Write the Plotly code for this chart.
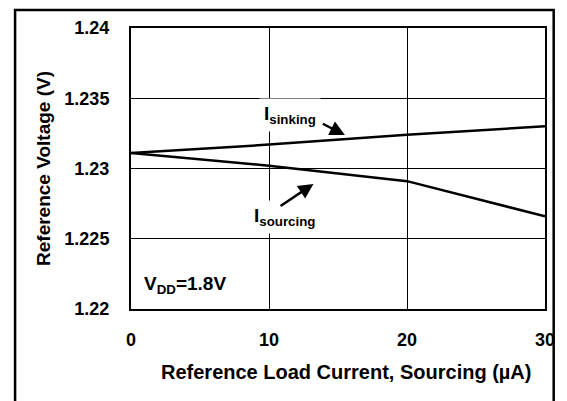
import plotly.graph_objects as go

# Load current (µA) and reference voltage (V) for each load direction
load_current = [0, 10, 20, 30]
v_sinking = [1.2311, 1.2317, 1.2324, 1.2330]
v_sourcing = [1.2311, 1.2302, 1.2291, 1.2266]

x_ticks = [0, 10, 20, 30]
y_ticks = [1.22, 1.225, 1.23, 1.235, 1.24]
y_tick_text = ["1.22", "1.225", "1.23", "1.235", "1.24"]

FONT = "Arial, 'Liberation Sans', sans-serif"

fig = go.Figure()
for name, vals in [("I sinking", v_sinking), ("I sourcing", v_sourcing)]:
    fig.add_trace(go.Scatter(
        x=load_current, y=vals, mode="lines", name=name,
        line=dict(color="black", width=2.5), showlegend=False,
    ))

tick_font = dict(family=FONT, size=18, color="black", weight="bold")
axis_common = dict(
    showgrid=True, gridcolor="black", gridwidth=1,
    showline=True, linecolor="black", linewidth=2, mirror=True,
    zeroline=False, ticks="", tickfont=tick_font,
)

fig.update_layout(
    width=567, height=401,
    margin=dict(l=131, r=14, t=28, b=92),
    paper_bgcolor="white", plot_bgcolor="white",
    font=dict(family=FONT, color="black"),
    xaxis=dict(range=[0, 30], tickvals=x_ticks, ticklabelstandoff=13,
               **axis_common),
    yaxis=dict(
        range=[1.22, 1.24], tickvals=y_ticks, ticktext=y_tick_text,
        ticklabelstandoff=16,
        title=dict(text="<b>Reference Voltage (V)</b>",
                   font=dict(family=FONT, size=19), standoff=9),
        **axis_common,
    ),
)

# X-axis title, set slightly right of the plot centre
fig.add_annotation(x=0.52, y=-0.224, xref="paper", yref="paper",
                   showarrow=False, yanchor="middle",
                   text="<b>Reference Load Current, Sourcing (µA)</b>",
                   font=dict(family=FONT, size=20))

# Outer frame around the whole figure
fig.add_shape(type="rect", xref="paper", yref="paper",
              x0=-0.28, x1=1.021, y0=-0.45, y1=1.064,
              line=dict(color="black", width=2.5), layer="below")

# Curve labels
fig.add_annotation(x=11.5, y=1.2338, xref="x", yref="y", showarrow=False,
                   text="<b>I<sub>sinking</sub></b>", bgcolor="white",
                   borderpad=4, font=dict(family=FONT, size=19))
fig.add_annotation(x=11.1, y=1.22655, xref="x", yref="y", showarrow=False,
                   text="<b>I<sub>sourcing</sub></b>", bgcolor="white",
                   borderpad=4, font=dict(family=FONT, size=19))
fig.add_annotation(x=0.8, y=1.2217, xref="x", yref="y", showarrow=False,
                   xanchor="left",
                   text="<b>V<sub>DD</sub>=1.8V</b>",
                   font=dict(family=FONT, size=19))

# Pointer arrows
fig.add_annotation(x=15.5, y=1.23238, ax=13.79, ay=1.23324,
                   xref="x", yref="y", axref="x", ayref="y", text="",
                   showarrow=True, arrowhead=2, arrowsize=1.2, arrowwidth=2.5,
                   arrowcolor="black")
fig.add_annotation(x=13.22, y=1.2289, ax=10.73, ay=1.22726,
                   xref="x", yref="y", axref="x", ayref="y", text="",
                   showarrow=True, arrowhead=2, arrowsize=1.2, arrowwidth=2.5,
                   arrowcolor="black")

fig.write_html("out.html")
